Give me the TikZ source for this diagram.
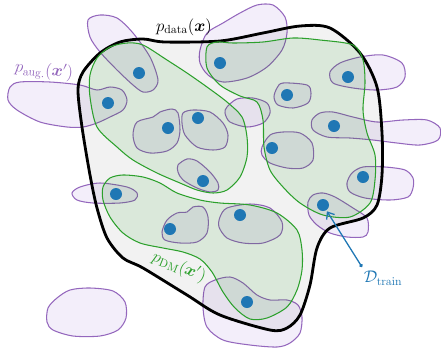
\documentclass[tikz,border=0pt]{standalone}
\usepackage{xcolor}
\usepackage{tikz}
\usetikzlibrary{arrows.meta}
\usepackage{amsmath,amssymb}
\usepackage{bm}

\definecolor{augpurple}{HTML}{9467BD}
\definecolor{dmgreen}{HTML}{2CA02C}
\definecolor{trainblue}{HTML}{1F77B4}
\definecolor{augfill}{RGB}{243,238,250}

\begin{document}
\begin{tikzpicture}[x=0.03cm,y=-0.03cm]\Large
\tikzstyle{blob} = [draw=augpurple, line width=0.9pt, fill=augfill]
\tikzstyle{region} = [draw=black, line width=2.4pt, fill=black, fill opacity=0.05]
\tikzstyle{dmregion} = [draw=dmgreen, line width=0.9pt, fill=dmgreen, fill opacity=0.12]
\tikzstyle{datapt} = [circle, fill=trainblue, inner sep=0pt, minimum size=0.36cm]
\tikzstyle{trainarrow} = [draw=trainblue, line width=1.1pt, {Circle[length=3pt]}-{Straight Barb[length=5pt,width=8pt]}, shorten >=1pt]

\useasboundingbox (0,0) rectangle (441,350);

	% augmented blobs
	\path[blob] plot[smooth cycle] coordinates {(88,20) (100,15) (117,18) (133,33) (150,57) (158,80) (153,90) (143,92) (133,85) (117,70) (100,52) (90,37)};
	\path[blob] plot[smooth cycle] coordinates {(10,87) (20,82) (50,82) (80,85) (97,90) (110,87) (122,90) (127,100) (123,110) (110,117) (97,123) (83,127) (67,127) (40,122) (17,110) (8,100)};
	\path[blob] plot[smooth cycle] coordinates {(137,122) (153,117) (160,112) (172,109) (178,113) (180,130) (177,143) (167,151) (150,153) (137,148) (133,135)};
	\path[blob] plot[smooth cycle] coordinates {(183,113) (193,110) (210,112) (223,123) (228,135) (225,147) (213,150) (197,147) (185,135) (182,123)};
	\path[blob] plot[smooth cycle] coordinates {(178,165) (187,159) (197,161) (210,172) (218,183) (218,190) (210,192) (197,188) (183,180) (178,172)};
	\path[blob] plot[smooth cycle] coordinates {(227,107) (237,99) (253,98) (267,103) (270,113) (263,123) (247,127) (230,122) (225,113)};
	\path[blob] plot[smooth cycle] coordinates {(277,88) (283,83) (307,85) (311,93) (308,103) (293,108) (278,105) (274,97)};
	\path[blob] plot[smooth cycle] coordinates {(262,147) (270,135) (283,132) (300,133) (312,143) (313,160) (303,168) (287,168) (270,163) (262,155)};
	\path[blob] plot[smooth cycle] coordinates {(312,120) (320,113) (333,112) (353,117) (377,122) (403,120) (427,120) (440,128) (438,140) (420,145) (397,143) (373,140) (350,138) (327,137) (313,130)};
	\path[blob] plot[smooth cycle] coordinates {(330,72) (340,63) (360,57) (383,55) (402,63) (405,77) (397,87) (377,90) (353,88) (333,83)};
	\path[blob] plot[smooth cycle] coordinates {(200,50) (207,33) (223,23) (240,13) (257,5) (273,5) (285,17) (287,33) (282,50) (267,67) (247,78) (223,82) (208,75) (200,63)};
	\path[blob] plot[smooth cycle] coordinates {(347,183) (352,173) (363,167) (385,167) (405,170) (413,178) (413,188) (408,197) (390,200) (365,198) (350,192)};
	\path[blob] plot[smooth cycle] coordinates {(308,202) (313,195) (323,193) (335,197) (353,208) (367,218) (368,232) (363,237) (347,237) (330,233) (317,225) (309,215)};
	\path[blob] plot[smooth cycle] coordinates {(220,217) (227,208) (250,204) (270,208) (282,222) (280,235) (263,243) (243,243) (227,238) (219,227)};
	\path[blob] plot[smooth cycle] coordinates {(162,232) (167,220) (177,213) (187,212) (193,207) (203,207) (208,217) (207,233) (197,242) (180,243) (165,240)};
	\path[blob] plot[smooth cycle] coordinates {(72,193) (80,187) (100,183) (127,187) (137,193) (135,200) (120,203) (93,203) (77,200)};
	\path[blob] plot[smooth cycle] coordinates {(203,307) (205,287) (215,280) (230,277) (243,283) (257,295) (270,300) (287,300) (298,305) (302,317) (300,333) (290,343) (277,347) (250,345) (223,340) (207,327)};
	\path[blob] plot[smooth cycle] coordinates {(48,308) (57,298) (70,290) (90,288) (113,291) (125,302) (126,318) (118,330) (100,336) (73,336) (53,330) (47,322)};

	% data distribution
	\path[region] plot[smooth cycle] coordinates {(143,39) (165,42) (220,41) (263,33) (300,26) (330,28) (360,53) (377,87) (382,133) (382,175) (377,205) (363,218) (330,228) (317,248) (310,285) (300,315) (287,328) (270,330) (220,315) (187,295) (143,268) (123,258) (107,238) (97,208) (90,175) (82,127) (78,90) (83,72) (100,53) (120,42)};

	% diffusion model
	\path[dmregion] plot[smooth cycle] coordinates {(97,58) (110,47) (127,43) (143,45) (167,60) (187,73) (207,87) (227,102) (242,117) (247,137) (247,157) (240,177) (227,190) (213,193) (197,190) (180,183) (157,173) (133,160) (117,147) (97,127) (90,97) (90,75)};
	\path[dmregion] plot[smooth cycle] coordinates {(207,47) (217,42) (233,43) (263,42) (293,38) (320,40) (353,45) (363,60) (365,83) (363,110) (367,133) (375,155) (375,180) (370,203) (350,217) (323,215) (300,203) (283,187) (270,170) (264,147) (263,120) (257,102) (240,96) (220,85) (207,68)};
	\path[dmregion] plot[smooth cycle] coordinates {(103,187) (110,178) (123,175) (143,177) (160,183) (177,193) (200,200) (220,203) (250,205) (277,213) (297,230) (302,250) (302,270) (297,290) (287,307) (267,318) (250,319) (235,308) (223,292) (212,272) (200,259) (183,252) (163,248) (140,243) (123,233) (110,217) (103,200)};

	% training points
	\foreach \px/\py [count=\i] in {139/73, 108/103, 168/128, 198/118, 203/181, 220/63, 287/95, 272/148, 334/126, 348/77, 363/177, 323/205, 240/215, 170/229, 116/194, 247/302}
		\node[datapt] (d\i) at (\px,\py) {};

	% labels
	\node (pdata) at (184,27) {$p_{\mathrm{data}}(\bm{x})$};
	\node[text=augpurple, rotate=-6] (paug) at (44,71) {$p_{\mathrm{aug.}}(\bm{x}')$};
	\node[text=dmgreen, rotate=-22] (pdm) at (179,267) {$p_{\mathrm{DM}}(\bm{x}')$};
	\node[text=trainblue] (dtrain) at (383,278) {$\mathcal{D}_{\mathrm{train}}$};

	\coordinate (trainfoot) at (362,267);
	\path[trainarrow] (trainfoot) -- (d12);
\end{tikzpicture}
\end{document}
